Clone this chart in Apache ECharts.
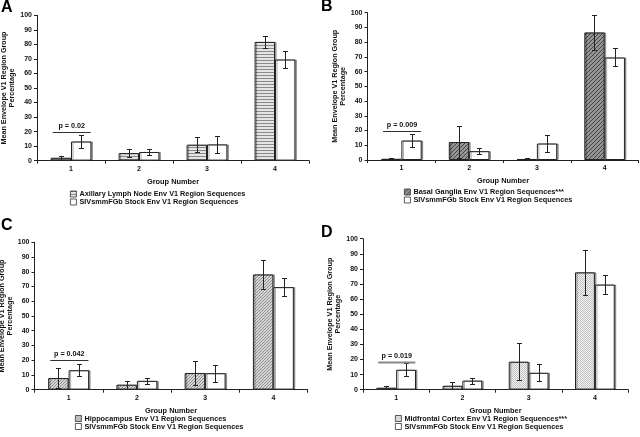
<!DOCTYPE html>
<html><head><meta charset="utf-8">
<script src="https://cdn.jsdelivr.net/npm/echarts@6/dist/echarts.min.js"></script>
<style>html,body{margin:0;padding:0;background:#fff}#c{width:640px;height:437px}</style>
</head><body><div id="c"></div>
<script>
// ---------- data ----------
const categories = ['1', '2', '3', '4'];
const panelLetters = ['A', 'B', 'C', 'D'];
const stockName = 'SIVsmmFGb Stock Env V1 Region Sequences';
const stockMean = [13.2, 6, 11.2, 69.6];
const stockErr = [4.2, 2, 5.7, 6.1];

const tissueNames = [
  'Axillary Lymph Node Env V1 Region Sequences',
  'Basal Ganglia Env V1 Region Sequences***',
  'Hippocampus Env V1 Region Sequences',
  'Midfrontal Cortex Env V1 Region Sequences***'
];
const axillaryMean = [2, 5.2, 11, 81.7];
const axillaryErr = [1.4, 2.7, 5, 3.9];
const basalMean = [0.8, 12.2, 0.7, 86.6];
const basalErr = [0.5, 11, 0.4, 11.7];
const hippoMean = [7.9, 3.4, 11.3, 78.2];
const hippoErr = [7, 2.7, 8.4, 9.6];
const midMean = [1.3, 2.6, 18.5, 77.7];
const midErr = [1.1, 2.2, 12.4, 14.7];

const pLabels = ['p = 0.02', 'p = 0.009', 'p = 0.042', 'p = 0.019'];
const pLineY = [19.5, 19.7, 20.4, 18.3];

const yAxisName = 'Mean Envelope V1 Region Group\nPercentage';
const xAxisName = 'Group Number';

// ---------- styles ----------
const FONT = 'Liberation Sans';
function pat(w, h, draw) {
  const c = document.createElement('canvas');
  c.width = w; c.height = h;
  const g = c.getContext('2d');
  draw(g);
  return { image: c, repeat: 'repeat' };
}
const patterns = [
  pat(4, 3, g => { g.fillStyle = '#e4e4e4'; g.fillRect(0, 0, 4, 3); g.fillStyle = '#8a8a8a'; g.fillRect(0, 0, 4, 1); }),
  pat(4, 4, g => { g.fillStyle = '#959595'; g.fillRect(0, 0, 4, 4); g.fillStyle = '#444';
    for (let i = 0; i < 4; i++) g.fillRect((3 - i + 4) % 4, i, 1, 1); }),
  pat(3, 3, g => { g.fillStyle = '#d6d6d6'; g.fillRect(0, 0, 3, 3); g.fillStyle = '#8e8e8e';
    for (let i = 0; i < 3; i++) g.fillRect((2 - i + 3) % 3, i, 1, 1); }),
  pat(2, 2, g => { g.fillStyle = '#f2f2f2'; g.fillRect(0, 0, 2, 2); g.fillStyle = '#c2c2c2';
    g.fillRect(0, 0, 1, 1); g.fillRect(1, 1, 1, 1); })
];

const grids = [
  { left: 37, top: 15.3, width: 272, height: 145.4 },
  { left: 367.5, top: 12.7, width: 271, height: 147.3 },
  { left: 34.5, top: 242.3, width: 273, height: 147.4 },
  { left: 363, top: 238.7, width: 265, height: 151 }
];
const yNameGaps = [19.5, 20.5, 18.5, 19];
const legendPos = [
  { left: 70, top: 190.5 },
  { left: 404, top: 188.5 },
  { left: 75, top: 415 },
  { left: 395, top: 415 }
];
const letterPos = [[1, 0], [321, -1], [1, 218], [321, 225]];
const pLineStyle = [
  { stroke: '#333', lineWidth: 1 },
  { stroke: '#333', lineWidth: 1 },
  { stroke: '#333', lineWidth: 1 },
  { stroke: '#888', lineWidth: 2 }
];

const tissueMeans = [axillaryMean, basalMean, hippoMean, midMean];
const tissueErrs = [axillaryErr, basalErr, hippoErr, midErr];

const BAR_W = 0.3;
function errRender(offset) {
  return function (params, api) {
    const cat = api.value(0), m = api.value(1), e = api.value(2);
    const band = api.size([1, 0])[0];
    const x = Math.round(api.coord([cat, m])[0] + offset * band) + 0.5;
    const yT = Math.round(api.coord([cat, m + e])[1]) + 0.5;
    const yB = Math.round(api.coord([cat, Math.max(0, m - e)])[1]) + 0.5;
    const cw = 2.5;
    const st = { stroke: '#222', lineWidth: 1 };
    return { type: 'group', children: [
      { type: 'line', shape: { x1: x, y1: yT, x2: x, y2: yB }, style: st },
      { type: 'line', shape: { x1: x - cw, y1: yT, x2: x + cw, y2: yT }, style: st },
      { type: 'line', shape: { x1: x - cw, y1: yB, x2: x + cw, y2: yB }, style: st }
    ] };
  };
}
function pRender(i) {
  return function (params, api) {
    const band = api.size([1, 0])[0];
    const p = api.coord([api.value(0), api.value(1)]);
    const y = Math.round(p[1]) + 0.5;
    const x1 = p[0] - 0.27 * band, x2 = p[0] + 0.29 * band;
    return { type: 'group', children: [
      { type: 'line', shape: { x1: x1, y1: y, x2: x2, y2: y }, style: pLineStyle[i] },
      { type: 'text', x: (x1 + x2) / 2, y: y - 2.5, style: { text: pLabels[i], fill: '#111',
        font: 'bold 7.2px ' + FONT, align: 'center', verticalAlign: 'bottom' } }
    ] };
  };
}

const option = { animation: false, backgroundColor: '#fff',
  grid: [], xAxis: [], yAxis: [], series: [], legend: [], graphic: [] };

for (let i = 0; i < 4; i++) {
  option.grid.push(Object.assign({ containLabel: false, outerBoundsMode: 'none' }, grids[i]));
  option.xAxis.push({ type: 'category', gridIndex: i, data: categories,
    name: xAxisName, nameLocation: 'middle', nameGap: 17.5,
    nameTextStyle: { fontFamily: FONT, fontWeight: 'bold', fontSize: 7.4, color: '#111' },
    axisLine: { lineStyle: { color: '#222', width: 1 } },
    axisTick: { show: true, length: 3, lineStyle: { color: '#222' } },
    axisLabel: { fontFamily: FONT, fontWeight: 'bold', fontSize: 7, color: '#111', margin: 5 },
    splitLine: { show: false } });
  option.yAxis.push({ type: 'value', gridIndex: i, min: 0, max: 100, interval: 10,
    name: yAxisName, nameLocation: 'middle', nameRotate: 90, nameGap: yNameGaps[i],
    nameTextStyle: { fontFamily: FONT, fontWeight: 'bold', fontSize: 7.2, color: '#111', lineHeight: 8.2 },
    axisLine: { show: true, lineStyle: { color: '#222', width: 1 } },
    axisTick: { show: true, length: 3, lineStyle: { color: '#222' } },
    axisLabel: { fontFamily: FONT, fontWeight: 'bold', fontSize: 7, color: '#111', margin: 5 },
    splitLine: { show: false } });

  const shadow = { shadowColor: 'rgba(0,0,0,0.35)', shadowOffsetX: 1.5, shadowOffsetY: 0, shadowBlur: 0 };
  option.series.push({ type: 'bar', name: tissueNames[i], xAxisIndex: i, yAxisIndex: i,
    data: tissueMeans[i], barWidth: (BAR_W * 100) + '%', barGap: '0%',
    itemStyle: Object.assign({ color: patterns[i], borderColor: '#222', borderWidth: 1 }, shadow) });
  option.series.push({ type: 'bar', name: stockName, xAxisIndex: i, yAxisIndex: i,
    data: stockMean, barWidth: (BAR_W * 100) + '%', barGap: '0%',
    itemStyle: Object.assign({ color: '#fff', borderColor: '#222', borderWidth: 1 }, shadow) });
  option.series.push({ type: 'custom', xAxisIndex: i, yAxisIndex: i, z: 5, silent: true,
    renderItem: errRender(-BAR_W / 2),
    data: tissueMeans[i].map((m, k) => [k, m, tissueErrs[i][k]]) });
  option.series.push({ type: 'custom', xAxisIndex: i, yAxisIndex: i, z: 5, silent: true,
    renderItem: errRender(BAR_W / 2),
    data: stockMean.map((m, k) => [k, m, stockErr[k]]) });
  option.series.push({ type: 'custom', xAxisIndex: i, yAxisIndex: i, z: 6, silent: true,
    renderItem: pRender(i), data: [[0, pLineY[i]]] });

  option.legend.push(Object.assign({ orient: 'vertical', itemWidth: 6, itemHeight: 6, itemGap: 1,
    icon: 'rect', selectedMode: false, padding: 0,
    data: [tissueNames[i], stockName],
    textStyle: { fontFamily: FONT, fontWeight: 'bold', fontSize: 7.3, color: '#111', padding: [0, 0, 0, -2] },
    itemStyle: { borderColor: '#333', borderWidth: 0.8, shadowColor: 'transparent' } }, legendPos[i]));

  option.graphic.push({ type: 'text', x: letterPos[i][0], y: letterPos[i][1],
    style: { text: panelLetters[i], font: 'bold 16px ' + FONT, fill: '#000' } });
}

const chart = echarts.init(document.getElementById('c'), null, { renderer: 'canvas' });
chart.setOption(option);
</script></body></html>
